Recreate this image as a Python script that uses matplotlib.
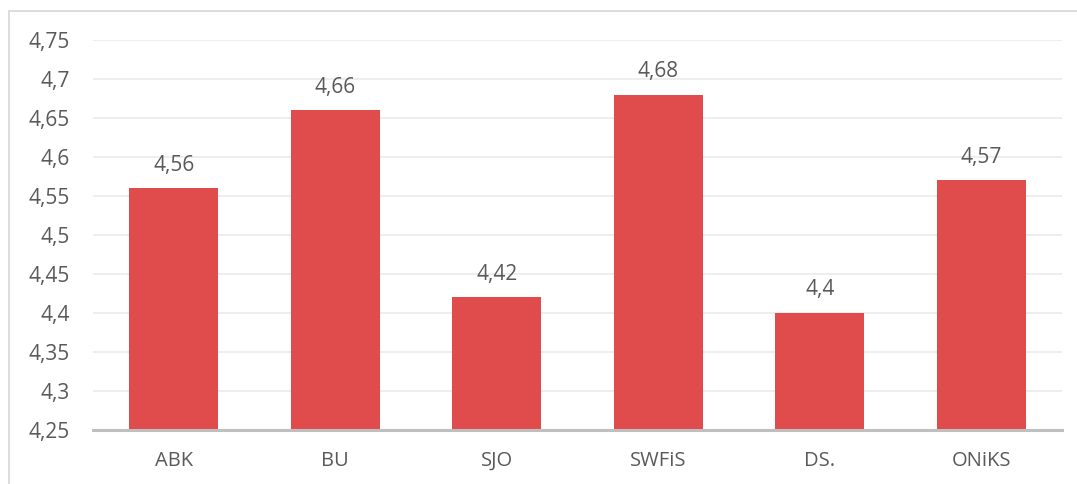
import matplotlib
matplotlib.use("Agg")
import matplotlib.pyplot as plt
from matplotlib.patches import Rectangle

categories = ["ABK", "BU", "SJO", "SWFiS", "DS.", "ONiKS"]
values = [4.56, 4.66, 4.42, 4.68, 4.40, 4.57]
yticks = [4.25, 4.3, 4.35, 4.4, 4.45, 4.5, 4.55, 4.6, 4.65, 4.7, 4.75]

def pl(v):
    # comma decimal, no trailing zeros
    return f"{v:.2f}".rstrip("0").rstrip(".").replace(".", ",")

plt.rcParams["font.family"] = ["Open Sans", "DejaVu Sans"]
txt = "#595959"

fig = plt.figure(figsize=(10.77, 4.84), dpi=100)
ax = fig.add_axes([93 / 1077, (484 - 430) / 484, (1062 - 93) / 1077, 390 / 484])

x = range(len(categories))
ax.bar(x, values, width=0.55, color="#E04B4C", bottom=0, zorder=3)
ax.set_ylim(4.25, 4.75)
ax.set_xlim(-0.5, len(categories) - 0.5)
ax.set_yticks(yticks)
ax.set_yticklabels([pl(t) for t in yticks], color=txt, fontsize=15)
ax.set_xticks(list(x))
ax.set_xticklabels(categories, color=txt, fontsize=14.5)
ax.tick_params(length=0)
ax.tick_params(axis="y", pad=17)
ax.tick_params(axis="x", pad=15)
ax.grid(axis="y", color="#EBEBEB", linewidth=1.2, zorder=0)
for s in ["top", "right", "left"]:
    ax.spines[s].set_visible(False)
ax.spines["bottom"].set_color("#BFBFBF")
ax.spines["bottom"].set_linewidth(2.2)
ax.spines["bottom"].set_zorder(4)

for i, v in enumerate(values):
    ax.annotate(pl(v), (i, v), xytext=(0, 9), textcoords="offset points",
                ha="center", va="bottom", color=txt, fontsize=15)

# outer chart border
fig.patches.append(Rectangle((8.5 / 1077, -0.1), 1.2, (484 - 11.5) / 484 + 0.1,
                             transform=fig.transFigure, fill=False,
                             edgecolor="#D9D9D9", linewidth=1.3))

fig.savefig("out.png", dpi=100)
